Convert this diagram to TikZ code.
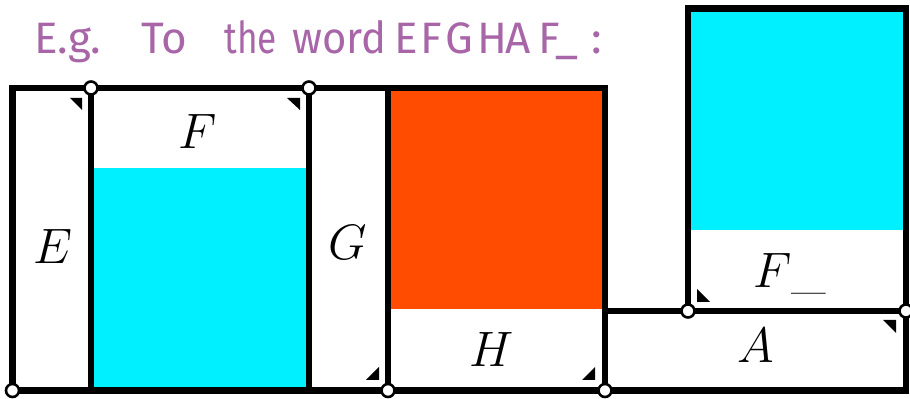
\documentclass[tikz,border=0pt]{standalone}
\usepackage{fontspec}
\newfontfamily\hand{Fira Sans}
\definecolor{cyanfill}{RGB}{0,240,255}
\definecolor{orangefill}{RGB}{255,76,0}
\definecolor{handpurple}{RGB}{168,102,168}
\tikzset{
  edge/.style={line width=3.3pt, line join=miter, line cap=rect},
  vtx/.style={circle, draw, fill=white, line width=1.3pt, minimum size=6.5pt, inner sep=0pt},
  lab/.style={inner sep=0pt, font=\fontsize{25}{30}\selectfont},
  hw/.style={inner sep=0pt, anchor=base west, text=handpurple, font=\hand\fontsize{22}{26}\selectfont},
  corner/.style={fill=black}
}
\begin{document}
\begin{tikzpicture}[x=0.5pt,y=-0.5pt]
\useasboundingbox (0,0) rectangle (910,399);
% fills
\fill[cyanfill] (91,168) rectangle (309,390.5);
\fill[orangefill] (388,88) rectangle (605,309.5);
\fill[cyanfill] (688,8.5) rectangle (906,230);
% corner coordinates
\coordinate (tl) at (12.5,88);
\coordinate (br) at (605,390.5);
% outlines
\draw[edge] (tl) rectangle (br);
\draw[edge] (91,88) -- (91,390.5);
\draw[edge] (309,88) -- (309,390.5);
\draw[edge] (388,88) -- (388,390.5);
\draw[edge] (605,311) rectangle (906,390.5);
\draw[edge] (688,8.5) rectangle (906,311);
% corner triangles
\fill[corner] (70,98) -- (82,98) -- (82,110) -- cycle;
\fill[corner] (287,98) -- (300,98) -- (300,110) -- cycle;
\fill[corner] (366,380) -- (379,380) -- (379,367) -- cycle;
\fill[corner] (582,380) -- (595,380) -- (595,367) -- cycle;
\fill[corner] (697,289) -- (697,302) -- (710,302) -- cycle;
\fill[corner] (883,320) -- (896,320) -- (896,333) -- cycle;
% vertices
\node[vtx] (v1) at (12.5,390.5) {};
\node[vtx] (v2) at (91,88) {};
\node[vtx] (v3) at (309,88) {};
\node[vtx] (v4) at (388,390.5) {};
\node[vtx] (v5) at (605,390.5) {};
\node[vtx] (v6) at (688,311) {};
\node[vtx] (v7) at (906,311) {};
% labels
\node[lab] (lE) at (53,247) {$E$};
\node[lab] (lF) at (198,132) {$F$};
\node[lab] (lG) at (348,243) {$G$};
\node[lab] (lH) at (492,350) {$H$};
\node[lab] (lFm) at (790,274) {$F\_$};
\node[lab] (lA) at (756,346) {$A$};
% handwritten title
\node[hw] (w1) at (34,54) {E.g.};
\node[hw] (w2) at (141,54) {To};
\node[hw] (w3) at (224,54) {\scalebox{0.8}[1]{the}};
\node[hw] (w4) at (292,54) {\scalebox{0.95}[1]{word}};
\node[hw] (c1) at (394,54) {E};
\node[hw] (c2) at (420,54) {F};
\node[hw] (c3) at (445,54) {G};
\node[hw] (c4) at (477,54) {H};
\node[hw] (c5) at (505,54) {A};
\node[hw] (c6) at (538,54) {F\_};
\node[hw] (c7) at (591,54) {:};
\end{tikzpicture}
\end{document}
